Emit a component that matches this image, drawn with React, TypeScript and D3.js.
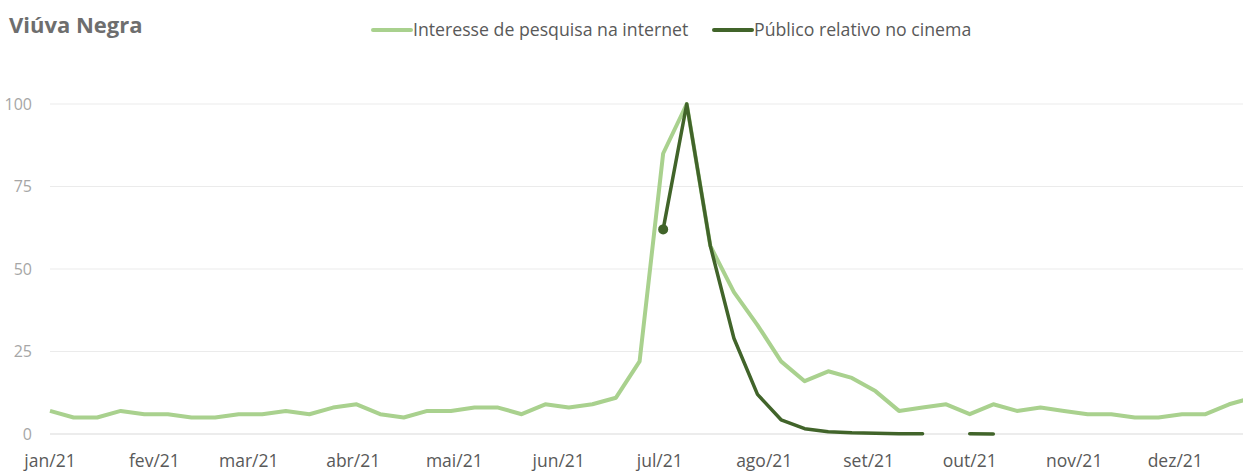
import React from "react";
import * as d3 from "d3";

const weeks: string[] = [
  "2021-01-01","2021-01-08","2021-01-15","2021-01-22","2021-01-29",
  "2021-02-05","2021-02-12","2021-02-19","2021-02-26",
  "2021-03-05","2021-03-12","2021-03-19","2021-03-26",
  "2021-04-02","2021-04-09","2021-04-16","2021-04-23","2021-04-30",
  "2021-05-07","2021-05-14","2021-05-21","2021-05-28",
  "2021-06-04","2021-06-11","2021-06-18","2021-06-25",
  "2021-07-02","2021-07-09","2021-07-16","2021-07-23","2021-07-30",
  "2021-08-06","2021-08-13","2021-08-20","2021-08-27",
  "2021-09-03","2021-09-10","2021-09-17","2021-09-24",
  "2021-10-01","2021-10-08","2021-10-15","2021-10-22","2021-10-29",
  "2021-11-05","2021-11-12","2021-11-19","2021-11-26",
  "2021-12-03","2021-12-10","2021-12-17","2021-12-24",
];

const interesse: (number | null)[] = [
  7, 5, 5, 7, 6, 6, 5, 5, 6, 6, 7, 6, 8, 9, 6, 5, 7, 7, 8, 8, 6, 9, 8, 9, 11, 22,
  85, 100, 57, 43, 33, 22, 16, 19, 17, 13, 7, 8, 9, 6, 9, 7, 8, 7, 6, 6, 5, 5, 6, 6, 9, 11,
];

const publico: (number | null)[] = [
  null, null, null, null, null, null, null, null, null, null, null, null, null,
  null, null, null, null, null, null, null, null, null, null, null, null, null,
  62, 100, 57, 29, 12, 4.3, 1.6, 0.7, 0.35, 0.2, 0.1, 0.05, null, 0.05, 0.02,
  null, null, null, null, null, null, null, null, null, null, null,
];

const monthLabels: string[] = [
  "jan/21","fev/21","mar/21","abr/21","mai/21","jun/21",
  "jul/21","ago/21","set/21","out/21","nov/21","dez/21",
];
const yTicks: number[] = [0, 25, 50, 75, 100];

const seriesNames = ["Interesse de pesquisa na internet", "Público relativo no cinema"];
const LIGHT = "#A9D18E";
const DARK = "#41642A";
const FONT = "'Segoe UI', 'Open Sans', 'Noto Sans', sans-serif";

export default function App() {
  const W = 1243, H = 472;
  const parse = d3.timeParse("%Y-%m-%d");
  const dates = weeks.map((w) => parse(w) as Date);
  const x = d3
    .scaleTime()
    .domain([dates[0], dates[dates.length - 1]])
    .range([50, 50 + 357 * 3.369]);
  const y = d3.scaleLinear().domain([0, 100]).range([434, 104]);

  const line = d3
    .line<[Date, number | null]>()
    .defined((d) => d[1] !== null)
    .x((d) => x(d[0]))
    .y((d) => y(d[1] as number));

  const lightPath = line(dates.map((d, i) => [d, interesse[i]]));
  const darkPath = line(dates.map((d, i) => [d, publico[i]]));
  const firstDark = publico.findIndex((v) => v !== null);

  const monthTicks = d3.timeMonth.range(new Date(2021, 0, 1), new Date(2021, 11, 2));

  return (
    <div style={{ position: "absolute", left: 0, top: 0 }}>
      <svg width={W} height={H} style={{ display: "block", background: "#fff" }}>
        <text x={9} y={33} fontFamily={FONT} fontWeight={700} fontSize={22} fill="#6E6E6E">
          Viúva Negra
        </text>
        {/* legend */}
        <line x1={373} x2={411} y1={30} y2={30} stroke={LIGHT} strokeWidth={4} strokeLinecap="round" />
        <text x={413} y={36} fontFamily={FONT} fontSize={17.7} fill="#595959">
          {seriesNames[0]}
        </text>
        <line x1={714} x2={752} y1={30} y2={30} stroke={DARK} strokeWidth={4} strokeLinecap="round" />
        <text x={754} y={36} fontFamily={FONT} fontSize={17.7} fill="#595959">
          {seriesNames[1]}
        </text>

        {yTicks.map((t) => (
          <g key={t}>
            <line
              x1={50}
              x2={W}
              y1={y(t)}
              y2={y(t)}
              stroke={t === 0 ? "#D9D9D9" : "#EBEBEB"}
              strokeWidth={1}
            />
            <text
              x={32}
              y={y(t) + 5.5}
              textAnchor="end"
              fontFamily={FONT}
              fontSize={16}
              fill="#A6A6A6"
            >
              {t}
            </text>
          </g>
        ))}

        {monthTicks.map((m, i) => (
          <text
            key={i}
            x={x(m)}
            y={467}
            textAnchor="middle"
            fontFamily={FONT}
            fontSize={17.5}
            fill="#595959"
          >
            {monthLabels[i]}
          </text>
        ))}

        <path d={lightPath || ""} fill="none" stroke={LIGHT} strokeWidth={4} strokeLinejoin="round" />
        <path
          d={darkPath || ""}
          fill="none"
          stroke={DARK}
          strokeWidth={3.5}
          strokeLinejoin="round"
          strokeLinecap="round"
        />
        <circle cx={x(dates[firstDark])} cy={y(publico[firstDark] as number)} r={5} fill={DARK} />
      </svg>
    </div>
  );
}
